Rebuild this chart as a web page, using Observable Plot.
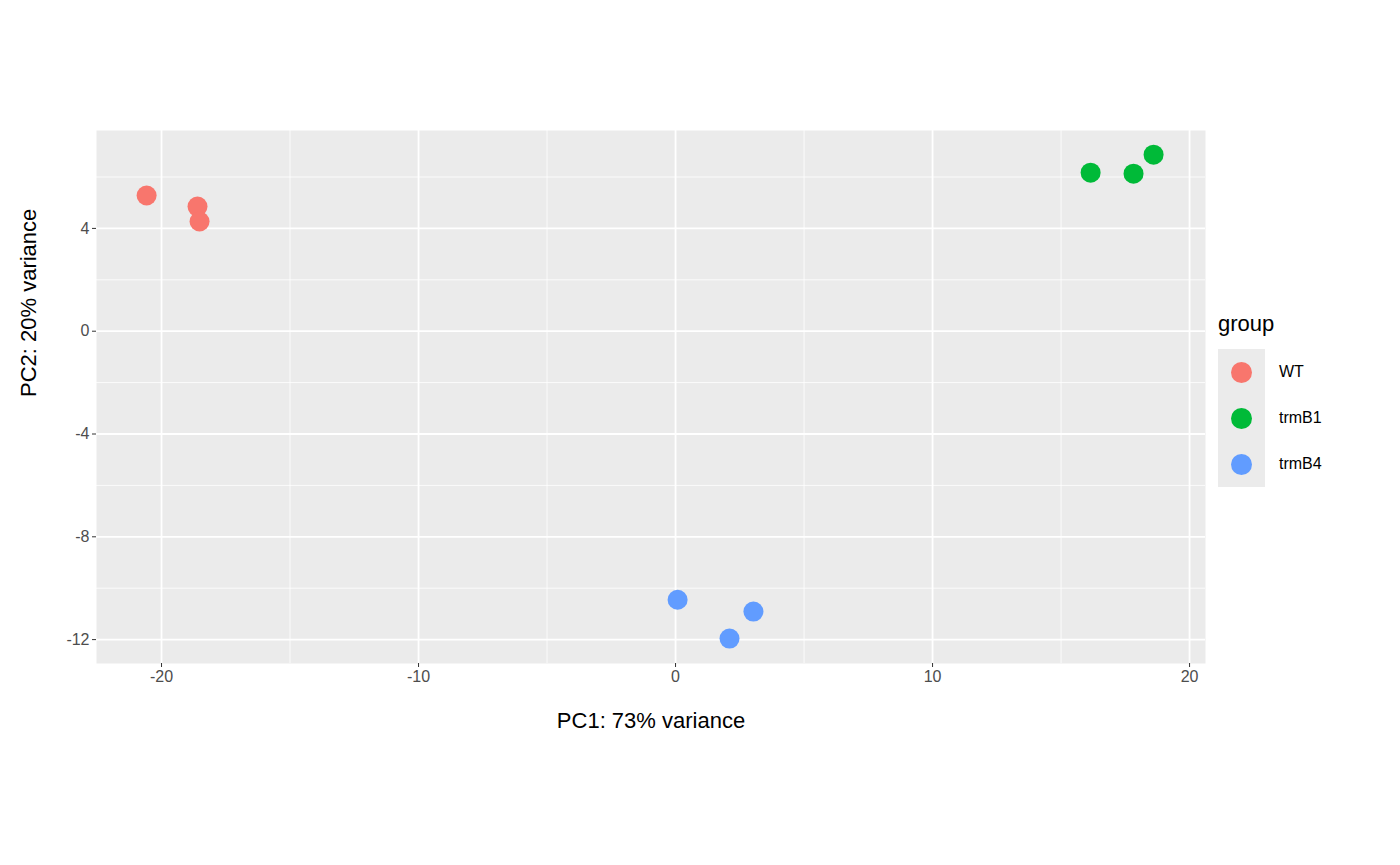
<!DOCTYPE html>
<html>
<head>
<meta charset="utf-8">
<script src="https://cdn.jsdelivr.net/npm/d3@7"></script>
<script src="https://cdn.jsdelivr.net/npm/@observablehq/plot@0.6"></script>
<style>
  body { margin: 0; background: #fff; font-family: Arial, "Liberation Sans", sans-serif; }
  #wrap { position: relative; width: 1400px; height: 865px; }
  #legend { position: absolute; left: 1218px; top: 311px; }
  #legend .title { font-size: 22px; color: #000; margin-bottom: 12px; }
  #legend .key { display: flex; align-items: center; height: 46px; }
  #legend .box { width: 47px; height: 46px; background: #EBEBEB; display: flex; align-items: center; justify-content: center; }
  #legend .dot { width: 21px; height: 21px; border-radius: 50%; }
  #legend .lab { margin-left: 14px; font-size: 16px; color: #000; }
</style>
</head>
<body>
<div id="wrap"></div>
<script>
const groups = ["WT", "trmB1", "trmB4"];
const colors = ["#F8766D", "#00BA38", "#619CFF"];
const pc1 = [-20.58, -18.6, -18.52, 16.15, 17.82, 18.6, 0.08, 3.03, 2.1];
const pc2 = [5.28, 4.85, 4.27, 6.17, 6.13, 6.87, -10.45, -10.91, -11.96];
const sampleGroup = ["WT", "WT", "WT", "trmB1", "trmB1", "trmB1", "trmB4", "trmB4", "trmB4"];
const xTicks = [-20, -10, 0, 10, 20];
const xMinor = [-15, -5, 5, 15];
const yTicks = [4, 0, -4, -8, -12];
const yMinor = [6, 2, -2, -6, -10];

const data = pc1.map((x, i) => ({ x, y: pc2[i], group: sampleGroup[i] }));

const chart = Plot.plot({
  width: 1400, height: 865,
  marginLeft: 96, marginRight: 195, marginTop: 130, marginBottom: 202,
  style: { fontFamily: "Arial, 'Liberation Sans', sans-serif", background: "#fff" },
  x: { domain: [-22.53, 20.62], label: null },
  y: { domain: [-12.93, 7.81], label: null },
  color: { domain: groups, range: colors },
  marks: [
    Plot.frame({ fill: "#EBEBEB", stroke: null }),
    Plot.ruleX(xMinor, { stroke: "#fff", strokeWidth: 0.8 }),
    Plot.ruleY(yMinor, { stroke: "#fff", strokeWidth: 0.8 }),
    Plot.ruleX(xTicks, { stroke: "#fff", strokeWidth: 1.8 }),
    Plot.ruleY(yTicks, { stroke: "#fff", strokeWidth: 1.8 }),
    Plot.axisX(xTicks, { fontSize: 16, color: "#4D4D4D", stroke: "#333", tickSize: 4, tickPadding: 3, tickFormat: d => String(d) }),
    Plot.axisY(yTicks, { fontSize: 16, color: "#4D4D4D", stroke: "#333", tickSize: 4, tickPadding: 3, tickFormat: d => String(d) }),
    Plot.dot(data, { x: "x", y: "y", fill: "group", r: 10 }),
    Plot.text(["PC1: 73% variance"], { frameAnchor: "bottom", dy: 64, fontSize: 22, fill: "#000" }),
    Plot.text(["PC2: 20% variance"], { frameAnchor: "left", dx: -68, rotate: -90, fontSize: 22, fill: "#000" })
  ]
});
document.getElementById("wrap").appendChild(chart);

const legend = document.createElement("div");
legend.id = "legend";
legend.innerHTML = `<div class="title">group</div>` +
  groups.map((g, i) => `<div class="key"><div class="box"><div class="dot" style="background:${colors[i]}"></div></div><span class="lab">${g}</span></div>`).join("");
document.getElementById("wrap").appendChild(legend);
</script>
</body>
</html>
